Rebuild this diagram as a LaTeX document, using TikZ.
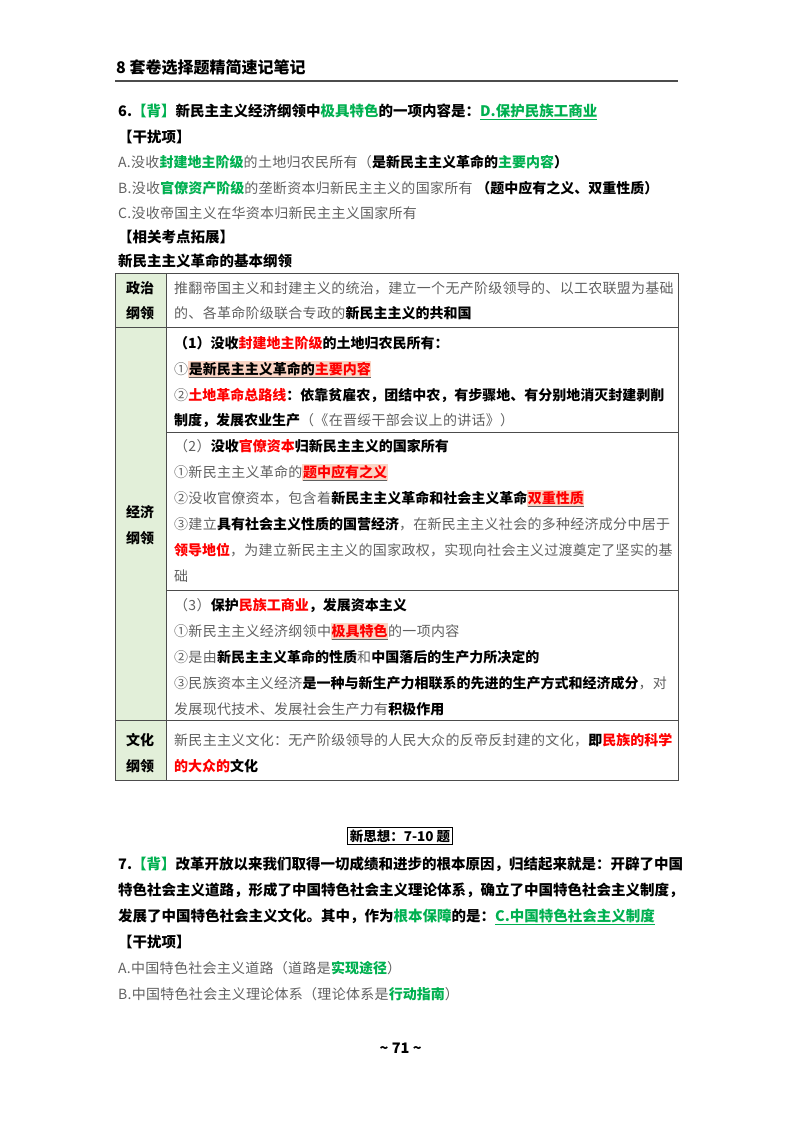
\documentclass[tikz,border=0pt]{standalone}
\usepackage{fontspec}
\setmainfont{Noto Sans CJK SC}[LetterSpace=2,BoldFeatures={LetterSpace=0}]
\definecolor{gry}{HTML}{606060}
\definecolor{grn}{HTML}{00B050}
\definecolor{rd}{HTML}{FF0000}
\definecolor{tg}{HTML}{E2EFD9}
\definecolor{hlc}{HTML}{FBD4C4}
\newcommand\B[1]{\textbf{\color{black}#1}}
\newcommand\G[1]{\textcolor{grn}{#1}}
\newcommand\GB[1]{\textbf{\color{grn}#1}}
\newcommand\R[1]{\textbf{\color{rd}#1}}
\newcommand\HL[1]{{\setlength\fboxsep{0.6pt}\colorbox{hlc}{\underline{#1}}}}
\begin{document}
\begin{tikzpicture}[x=1pt,y=-1pt,
  ln/.style={anchor=base west,inner sep=0,text=gry,font=\fontsize{14}{16}\selectfont},
  bl/.style={ln,text=black,font=\fontsize{14.5}{16}\selectfont\bfseries},
  lab/.style={anchor=base,inner sep=0,font=\fontsize{14}{16}\selectfont\bfseries},
  grid/.style={draw=black!70,line width=0.8pt}]
\useasboundingbox (0,0) rectangle (800,1132);
% header
\node[bl,font=\fontsize{16}{18}\selectfont\bfseries] (hd) at (116,74) {8 套卷选择题精简速记笔记};
\draw[line width=1.4pt,black!70] (115,81) -- (678,81);
% item 6
\node[bl] (q6) at (118,116) {6.\GB{【背】}新民主主义经济纲领中\G{极具特色}的一项内容是：\G{\underline{D.保护民族工商业}}};
\node[bl] (g1) at (118,142) {【干扰项】};
\node[ln] (a1) at (118,167) {A.没收\GB{封建地主阶级}的土地归农民所有（\B{是新民主主义革命的}\GB{主要内容}\B{）}};
\node[ln] (b1) at (118,193) {B.没收\GB{官僚资产阶级}的垄断资本归新民主主义的国家所有 \B{（题中应有之义、双重性质）}};
\node[ln] (c1) at (118,218) {C.没收帝国主义在华资本归新民主主义国家所有};
\node[bl] (k1) at (118,242) {【相关考点拓展】};
\node[bl] (k2) at (118,266) {新民主主义革命的基本纲领};
% table
\fill[tg] (115,273) rectangle (166,780);
\draw[grid] (115,273) rectangle (678,780);
\draw[grid] (166,273) -- (166,780);
\draw[grid] (115,327) -- (678,327);
\draw[grid] (166,432) -- (678,432);
\draw[grid] (166,590) -- (678,590);
\draw[grid] (115,720) -- (678,720);
\node[lab] (l1) at (140,293) {政治};
\node[lab] (l2) at (140,318) {纲领};
\node[lab] (l3) at (140,517) {经济};
\node[lab] (l4) at (140,543) {纲领};
\node[lab] (l5) at (140,745) {文化};
\node[lab] (l6) at (140,771) {纲领};
\node[ln] (r1) at (174,293) {推翻帝国主义和封建主义的统治，建立一个无产阶级领导的、以工农联盟为基础};
\node[ln] (r2) at (174,318) {的、各革命阶级联合专政的\B{新民主主义的共和国}};
\node[bl,font=\fontsize{14}{16}\selectfont\bfseries] (e1) at (174,348) {（1）没收\R{封建地主阶级}的土地归农民所有：};
\node[ln] (e2) at (174,374) {①\HL{\B{是新民主主义革命的}\R{主要内容}}};
\node[ln] (e3) at (174,400) {②\R{土地革命总路线}\B{：依靠贫雇农，团结中农，有步骤地、有分别地消灭封建剥削}};
\node[ln] (e4) at (174,425) {\B{制度，发展农业生产}（《在晋绥干部会议上的讲话》）};
\node[ln] (f1) at (174,451) {（2）\B{没收}\R{官僚资本}\B{归新民主主义的国家所有}};
\node[ln] (f2) at (174,477) {①新民主主义革命的\HL{\R{题中应有之义}}};
\node[ln] (f3) at (174,503) {②没收官僚资本，包含着\B{新民主主义革命和社会主义革命}\HL{\R{双重性质}}};
\node[ln] (f4) at (174,529) {③建立\B{具有社会主义性质的国营经济}，在新民主主义社会的多种经济成分中居于};
\node[ln] (f5) at (174,555) {\R{领导地位}，为建立新民主主义的国家政权，实现向社会主义过渡奠定了坚实的基};
\node[ln] (f6) at (174,581) {础};
\node[ln] (h1) at (174,610) {（3）\B{保护}\R{民族工商业}\B{，发展资本主义}};
\node[ln] (h2) at (174,636) {①新民主主义经济纲领中\HL{\R{极具特色}}的一项内容};
\node[ln] (h3) at (174,662) {②是由\B{新民主主义革命的性质}和\B{中国落后的生产力所决定的}};
\node[ln] (h4) at (174,688) {③民族资本主义经济\B{是一种与新生产力相联系的先进的生产方式和经济成分}，对};
\node[ln] (h5) at (174,714) {发展现代技术、发展社会生产力有\B{积极作用}};
\node[ln] (w1) at (174,745) {新民主主义文化：无产阶级领导的人民大众的反帝反封建的文化，\B{即}\R{民族的科学}};
\node[ln] (w2) at (174,771) {\R{的大众的}\B{文化}};
% section 7
\node[draw=black,line width=0.8pt,inner sep=2pt,font=\fontsize{13.5}{16}\selectfont\bfseries] (sx) at (400,836) {新思想：7-10 题};
\node[bl] (s1) at (118,869) {7.\GB{【背】}改革开放以来我们取得一切成绩和进步的根本原因，归结起来就是：开辟了中国};
\node[bl] (s2) at (118,895) {特色社会主义道路，形成了中国特色社会主义理论体系，确立了中国特色社会主义制度，};
\node[bl] (s3) at (118,921) {发展了中国特色社会主义文化。其中，作为\G{根本保障}的是：\G{\underline{C.中国特色社会主义制度}}};
\node[bl] (s4) at (118,947) {【干扰项】};
\node[ln] (s5) at (118,973) {A.中国特色社会主义道路（道路是\GB{实现途径}）};
\node[ln] (s6) at (118,999) {B.中国特色社会主义理论体系（理论体系是\GB{行动指南}）};
\node[bl] (pg) at (400,1053) {\makebox[0pt]{\textasciitilde{} 71 \textasciitilde}};
\end{tikzpicture}
\end{document}
